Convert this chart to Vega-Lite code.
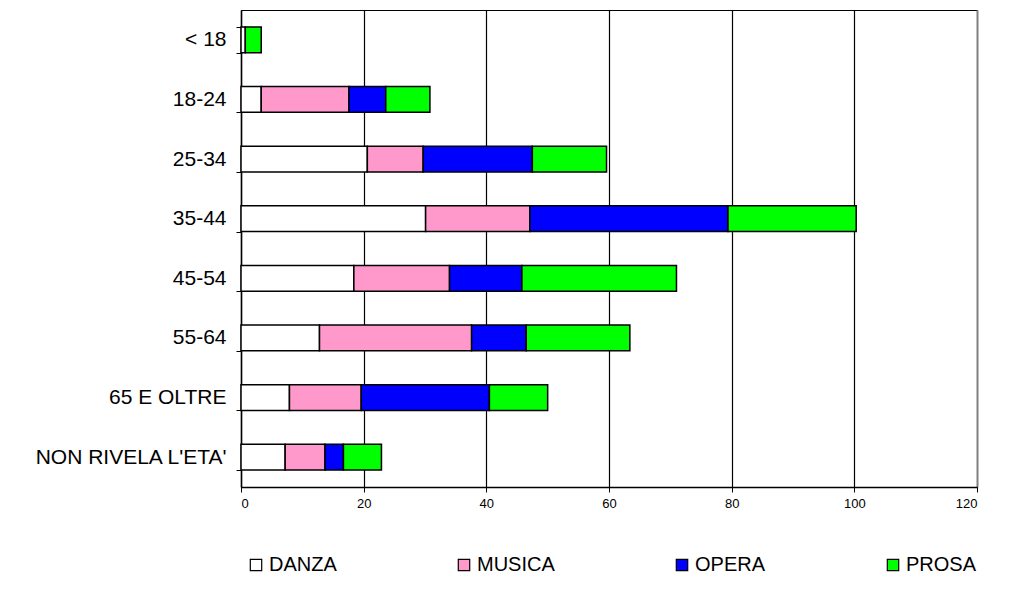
{
  "$schema": "https://vega.github.io/schema/vega-lite/v6.json",
  "width": 736,
  "height": 477,
  "autosize": {"type": "none"},
  "padding": {"left": 241, "top": 10, "right": 34, "bottom": 109},
  "background": "white",
  "config": {
    "font": "Liberation Sans",
    "view": {"stroke": "black", "strokeWidth": 1}
  },
  "data": {
    "values": [
      {"eta": "< 18", "tipo": "DANZA", "v": 0.7},
      {"eta": "< 18", "tipo": "MUSICA", "v": 0},
      {"eta": "< 18", "tipo": "OPERA", "v": 0},
      {"eta": "< 18", "tipo": "PROSA", "v": 2.6},
      {"eta": "18-24", "tipo": "DANZA", "v": 3.3},
      {"eta": "18-24", "tipo": "MUSICA", "v": 14.3},
      {"eta": "18-24", "tipo": "OPERA", "v": 6.0},
      {"eta": "18-24", "tipo": "PROSA", "v": 7.2},
      {"eta": "25-34", "tipo": "DANZA", "v": 20.6},
      {"eta": "25-34", "tipo": "MUSICA", "v": 9.1},
      {"eta": "25-34", "tipo": "OPERA", "v": 17.8},
      {"eta": "25-34", "tipo": "PROSA", "v": 12.1},
      {"eta": "35-44", "tipo": "DANZA", "v": 30.1},
      {"eta": "35-44", "tipo": "MUSICA", "v": 17.0},
      {"eta": "35-44", "tipo": "OPERA", "v": 32.3},
      {"eta": "35-44", "tipo": "PROSA", "v": 20.9},
      {"eta": "45-54", "tipo": "DANZA", "v": 18.4},
      {"eta": "45-54", "tipo": "MUSICA", "v": 15.6},
      {"eta": "45-54", "tipo": "OPERA", "v": 11.8},
      {"eta": "45-54", "tipo": "PROSA", "v": 25.2},
      {"eta": "55-64", "tipo": "DANZA", "v": 12.8},
      {"eta": "55-64", "tipo": "MUSICA", "v": 24.8},
      {"eta": "55-64", "tipo": "OPERA", "v": 8.9},
      {"eta": "55-64", "tipo": "PROSA", "v": 16.9},
      {"eta": "65 E OLTRE", "tipo": "DANZA", "v": 7.9},
      {"eta": "65 E OLTRE", "tipo": "MUSICA", "v": 11.7},
      {"eta": "65 E OLTRE", "tipo": "OPERA", "v": 20.9},
      {"eta": "65 E OLTRE", "tipo": "PROSA", "v": 9.5},
      {"eta": "NON RIVELA L'ETA'", "tipo": "DANZA", "v": 7.2},
      {"eta": "NON RIVELA L'ETA'", "tipo": "MUSICA", "v": 6.5},
      {"eta": "NON RIVELA L'ETA'", "tipo": "OPERA", "v": 3.0},
      {"eta": "NON RIVELA L'ETA'", "tipo": "PROSA", "v": 6.2}
    ]
  },
  "transform": [{"filter": "datum.v > 0"}],
  "mark": {"type": "bar", "stroke": "black", "strokeWidth": 1.5},
  "encoding": {
    "y": {
      "field": "eta",
      "type": "nominal",
      "sort": ["< 18", "18-24", "25-34", "35-44", "45-54", "55-64", "65 E OLTRE", "NON RIVELA L'ETA'"],
      "scale": {"paddingInner": 0.57, "paddingOuter": 0.285},
      "axis": {
        "title": null,
        "tickBand": "extent",
        "tickSize": 5,
        "tickColor": "black",
        "domainColor": "black",
        "domainWidth": 1.5,
        "labelFontSize": 21,
        "labelColor": "black",
        "labelPadding": 10,
        "labelLimit": 400,
        "grid": false
      }
    },
    "x": {
      "field": "v",
      "type": "quantitative",
      "stack": "zero",
      "scale": {"domain": [0, 120], "nice": false},
      "axis": {
        "title": null,
        "values": [0, 20, 40, 60, 80, 100, 120],
        "grid": true,
        "gridColor": {"condition": {"test": "datum.value === 120", "value": "#808080"}, "value": "black"},
        "gridWidth": {"condition": {"test": "datum.value === 120", "value": 2}, "value": 1.2},
        "gridOpacity": 1,
        "tickSize": 5,
        "tickColor": "black",
        "domainColor": "black",
        "domainWidth": 1.5,
        "labelFontSize": 13,
        "labelColor": "black",
        "labelPadding": 5
      }
    },
    "color": {
      "field": "tipo",
      "type": "nominal",
      "scale": {
        "domain": ["DANZA", "MUSICA", "OPERA", "PROSA"],
        "range": ["#FFFFFF", "#FF99CC", "#0000FF", "#00FF00"]
      },
      "legend": {
        "title": null,
        "orient": "none",
        "legendX": 5,
        "legendY": 545,
        "direction": "horizontal",
        "columns": 4,
        "columnPadding": 117,
        "symbolType": "square",
        "symbolSize": 130,
        "symbolStrokeColor": "black",
        "symbolStrokeWidth": 1.2,
        "symbolOpacity": 1,
        "labelFontSize": 20,
        "labelColor": "black",
        "labelOffset": 3,
        "labelLimit": 200
      }
    },
    "order": {"field": "tipo", "type": "nominal"}
  }
}
